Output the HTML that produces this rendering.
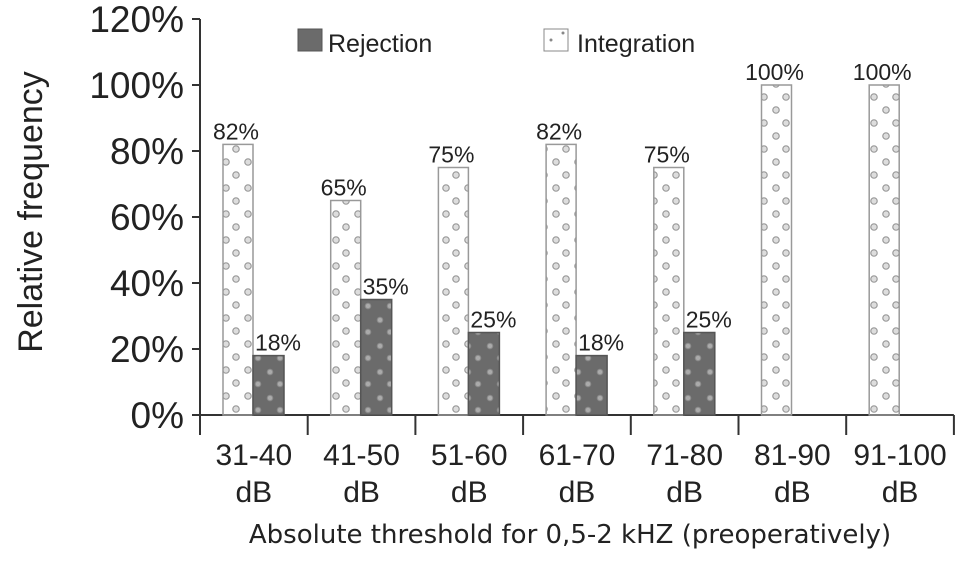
<!DOCTYPE html>
<html><head><meta charset="utf-8"><style>
body{margin:0;background:#fff;}
svg{display:block;font-family:"Liberation Sans",Arial,sans-serif;}
</style></head><body>
<svg id="chart" width="969" height="561" viewBox="0 0 969 561">
<defs>
<pattern id="dotsI" width="22" height="26" patternUnits="userSpaceOnUse">
<circle cx="6" cy="6" r="3.2" fill="#ddd" stroke="#999" stroke-width="1.2"/>
<circle cx="16" cy="19" r="3.2" fill="#ddd" stroke="#999" stroke-width="1.2"/>
</pattern>
<pattern id="dotsR" width="22" height="26" patternUnits="userSpaceOnUse">
<rect width="22" height="26" fill="#6b6b6b"/>
<circle cx="6" cy="8" r="2.8" fill="#aaa" stroke="#888" stroke-width="1"/>
<circle cx="16" cy="20" r="2.8" fill="#aaa" stroke="#888" stroke-width="1"/>
</pattern>
</defs>
<g id="axes"></g>
<g id="bars"></g>
<text x="42" y="212" font-size="34" fill="#222" text-anchor="middle" transform="rotate(-90 42 212)">Relative frequency</text>
<text x="570" y="543" font-size="26" fill="#222" text-anchor="middle" font-family="DejaVu Sans, sans-serif">Absolute threshold for 0,5-2 kHZ (preoperatively)</text>
<g>
<rect x="298" y="29" width="24" height="22" fill="#6b6b6b" stroke="#555"/>
<text x="328" y="52" font-size="25" fill="#222">Rejection</text>
<rect x="544" y="29" width="24" height="22" fill="#fff" stroke="#888"/>
<circle cx="551" cy="40" r="1.5" fill="#888"/><circle cx="563" cy="33" r="1.5" fill="#888"/>
<text x="577" y="52" font-size="25" fill="#222">Integration</text>
</g>
</svg>
<script>
const categories=["31-40","41-50","51-60","61-70","71-80","81-90","91-100"];
const integration=[82,65,75,82,75,100,100];
const rejection=[18,35,25,18,25,0,0];
const yTicks=[0,20,40,60,80,100,120];

const NS="http://www.w3.org/2000/svg";
const x0=200,step=107.7,y0=415,pxPer=3.3;
const yScale=v=>y0-v*pxPer;
const xGroup=i=>x0+i*step;
function el(tag,attrs,parent,text){const e=document.createElementNS(NS,tag);for(const k in attrs)e.setAttribute(k,attrs[k]);if(text!==undefined)e.textContent=text;parent.appendChild(e);return e;}
const axes=document.getElementById('axes'),bars=document.getElementById('bars');
const ya=el('line',{x1:x0,y1:yScale(120),x2:x0,y2:y0,stroke:'#333','stroke-width':2},axes);


const xa=el('line',{x1:x0,y1:y0,x2:xGroup(categories.length),y2:y0,stroke:'#333','stroke-width':2},axes);


yTicks.forEach(t=>{
 el('line',{x1:x0-8,y1:yScale(t),x2:x0,y2:yScale(t),stroke:'#333','stroke-width':2},axes);
 const lb=el('text',{x:x0-16,y:yScale(t)+13,'font-size':37,'text-anchor':'end',fill:'#222'},axes,t+'%');
 
 
});
for(let i=0;i<=categories.length;i++){
 el('line',{x1:xGroup(i),y1:y0,x2:xGroup(i),y2:y0+20,stroke:'#333','stroke-width':2},axes);
}
categories.forEach((c,i)=>{
 const cx=xGroup(i)+step/2;
 const l1=el('text',{x:cx,y:465,'font-size':30,'text-anchor':'middle',fill:'#222'},axes,c);
 
 
 const l2=el('text',{x:cx,y:502,'font-size':30,'text-anchor':'middle',fill:'#222'},axes,'dB');
 
 
 const bx=xGroup(i)+23,bw=30;
 const bi=el('rect',{x:bx,y:yScale(integration[i]),width:bw,height:y0-yScale(integration[i]),fill:'url(#dotsI)',stroke:'#999','stroke-width':1.5},bars);
 
 
 const ti=el('text',{x:bx+bw/2-2,y:yScale(integration[i])-5,'font-size':23,'text-anchor':'middle',fill:'#222'},bars,integration[i]+'%');
 
 
 if(rejection[i]>0){
  const rx=bx+bw;
  const br=el('rect',{x:rx,y:yScale(rejection[i]),width:bw+1,height:y0-yScale(rejection[i]),fill:'url(#dotsR)',stroke:'#555','stroke-width':1.5},bars);
  
  
  const tr=el('text',{x:rx+bw/2+10,y:yScale(rejection[i])-5,'font-size':23,'text-anchor':'middle',fill:'#222'},bars,rejection[i]+'%');
  
  
 }
});
</script>
</body></html>
